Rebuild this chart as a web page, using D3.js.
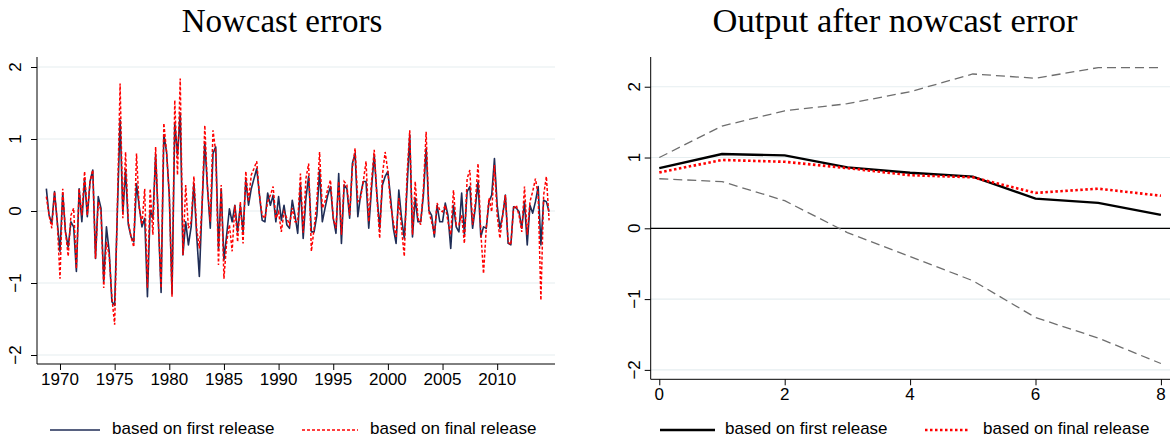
<!DOCTYPE html>
<html>
<head>
<meta charset="utf-8">
<script src="https://cdn.jsdelivr.net/npm/d3@7"></script>
<style>
  body { margin: 0; background: #fff; }
  text { font-family: "Liberation Sans", Arial, sans-serif; }
  .title { font-family: "Liberation Serif", "DejaVu Serif", serif; }
</style>
</head>
<body>
<script>
// quarterly nowcast errors, starting 1968Q4
const startYear = 1968.75;
const firstRelease = [
  0.31, -0.06, -0.17, 0.27, -0.15, -0.56, 0.25, -0.29, -0.5, -0.15,
  -0.22, -0.84, 0.31, -0.15, 0.45, -0.08, 0.41, 0.57, -0.66, 0.2,
  0.04, -0.98, -0.22, -0.56, -1.26, -1.31, 0.0, 1.26, -0.03, 0.57,
  -0.19, -0.36, -0.43, 0.38, 0.06, -0.22, -0.1, -1.19, 0.01, -0.1,
  0.78, -0.15, -1.13, 1.06, 0.82, 0.22, -1.15, 1.22, 0.78, 1.36,
  -0.61, -0.15, -0.47, -0.22, 0.38, -0.33, -0.91, 0.08, 0.96, 0.31,
  -0.24, 0.8, 0.89, -0.52, 0.31, -0.68, -0.33, 0.03, -0.15, 0.08,
  -0.29, 0.08, -0.29, 0.43, 0.08, 0.31, 0.45, 0.59, 0.22, -0.13,
  -0.15, 0.25, 0.08, 0.22, -0.15, 0.2, -0.13, 0.08, -0.19, -0.24,
  0.15, -0.06, -0.31, 0.36, -0.38, 0.18, 0.48, -0.29, -0.29, -0.06,
  0.57, -0.15, 0.04, 0.22, 0.34, -0.1, -0.31, 0.52, -0.45, 0.36,
  0.31, -0.1, 0.66, 0.8, -0.08, 0.22, 0.41, 0.41, -0.24, 0.31,
  0.78, 0.22, -0.24, 0.36, 0.48, 0.55, 0.18, -0.24, -0.45, 0.29,
  -0.1, -0.38, 0.31, 1.06, -0.36, 0.18, -0.15, -0.15, 0.22, 0.87,
  0.01, -0.06, -0.36, 0.08, -0.15, -0.15, 0.11, -0.06, -0.52, 0.08,
  -0.22, -0.29, 0.25, -0.33, 0.27, 0.34, -0.24, 0.05, 0.41, -0.36,
  -0.22, -0.24, 0.13, 0.22, 0.73, 0.08, -0.24, -0.06, 0.22, -0.45,
  -0.47, 0.06, 0.04, -0.01, -0.24, 0.13, -0.47, 0.08, -0.03, 0.13,
  0.34, -0.47, 0.15, 0.13, -0.01
];
const finalRelease = [
  0.2, -0.06, -0.24, 0.27, -0.15, -0.94, 0.31, -0.29, -0.63, -0.06,
  0.04, -0.8, 0.31, -0.06, 0.55, -0.06, 0.41, 0.57, -0.66, 0.13,
  0.0, -1.07, -0.43, -0.61, -1.2, -1.58, 0.08, 1.77, -0.1, 0.82,
  -0.15, -0.36, -0.5, 0.8, 0.04, -0.19, 0.31, -1.07, 0.31, -0.33,
  0.89, -0.15, -1.07, 1.22, 0.82, 0.22, -1.19, 1.54, 0.5, 1.84,
  -0.61, 0.36, -0.24, -0.15, 0.48, -0.24, -0.52, 0.08, 1.19, 0.31,
  -0.15, 1.12, 0.82, -0.75, 0.36, -0.94, -0.43, -0.19, -0.56, 0.08,
  -0.43, 0.13, -0.45, 0.55, 0.13, 0.5, 0.59, 0.69, 0.22, -0.06,
  -0.1, 0.13, 0.22, 0.34, -0.1, -0.01, -0.29, -0.01, -0.1, -0.19,
  0.04, -0.15, -0.15, 0.52, -0.3, 0.45, 0.66, -0.56, -0.24, 0.13,
  0.82, 0.04, 0.13, 0.31, 0.43, -0.1, -0.24, 0.41, -0.33, 0.41,
  0.36, -0.06, 0.59, 0.87, 0.13, 0.18, 0.41, 0.69, -0.15, 0.41,
  0.85, 0.18, -0.38, 0.5, 0.82, 0.55, 0.08, -0.15, -0.36, 0.18,
  -0.24, -0.63, 0.5, 1.12, -0.33, 0.41, -0.1, -0.19, 0.31, 1.1,
  -0.01, -0.15, -0.33, 0.11, 0.01, -0.01, 0.08, -0.15, -0.33, 0.29,
  -0.19, -0.19, -0.06, -0.45, 0.45, 0.57, -0.19, 0.11, 0.66, -0.29,
  -0.87, -0.24, 0.18, -0.01, 0.64, -0.06, -0.38, -0.06, 0.22, -0.43,
  -0.47, 0.04, 0.08, -0.06, -0.29, 0.34, -0.33, 0.13, 0.27, 0.45,
  0.22, -1.24, 0.22, 0.48, -0.13
];
const yearTicks = [1970, 1975, 1980, 1985, 1990, 1995, 2000, 2005, 2010];
const errTicks = [-2, -1, 0, 1, 2];

// impulse response after a nowcast error, horizons 0..8
const horizons = [0, 1, 2, 3, 4, 5, 6, 7, 8];
const irfFirst = [0.85, 1.05, 1.03, 0.86, 0.785, 0.73, 0.42, 0.36, 0.19];
const irfFinal = [0.79, 0.965, 0.94, 0.85, 0.75, 0.72, 0.5, 0.56, 0.46];
const bandUpper = [1.0, 1.445, 1.66, 1.76, 1.93, 2.18, 2.12, 2.27, 2.27];
const bandLower = [0.7, 0.66, 0.39, -0.06, -0.4, -0.74, -1.26, -1.55, -1.91];
const hTicks = [0, 2, 4, 6, 8];
const irfTicks = [-2, -1, 0, 1, 2];

const W = 1172, H = 439;
const svg = d3.select("body").append("svg")
  .attr("width", W).attr("height", H);

const gridColor = "#e6eef0";
const minus = d => d < 0 ? "\u2212" + Math.abs(d) : d;

function drawPanel(opts) {
  const { x, y, xTicks, yTicks, xLabelY, yLabelX, title, titleX, titleSize } = opts;
  const [x0, x1] = x.range();
  const [y0, y1] = y.range();

  // gridlines
  svg.append("g").selectAll("line")
    .data(yTicks)
    .enter().append("line")
    .attr("x1", x0).attr("x2", x1)
    .attr("y1", d => y(d)).attr("y2", d => y(d))
    .attr("stroke", gridColor).attr("stroke-width", 1.2);

  // axes (labels drawn separately so y ones can be rotated)
  const yAxis = svg.append("g")
    .attr("transform", `translate(${x0},0)`)
    .call(d3.axisLeft(y).tickValues(yTicks).tickSize(6));
  yAxis.select(".domain").attr("d", `M0,${y0}V${y1}`);
  yAxis.selectAll("text").remove();
  svg.append("g").selectAll("text")
    .data(yTicks)
    .enter().append("text")
    .attr("transform", d => `translate(${yLabelX},${y(d)}) rotate(-90)`)
    .attr("text-anchor", "middle")
    .attr("dy", "0.35em")
    .style("font-size", "17px")
    .text(minus);

  const xAxis = svg.append("g")
    .attr("transform", `translate(0,${y0})`)
    .call(d3.axisBottom(x).tickValues(xTicks).tickSize(6));
  xAxis.select(".domain").attr("d", `M${x0},0H${x1}`);
  xAxis.selectAll("text").remove();
  svg.append("g").selectAll("text")
    .data(xTicks)
    .enter().append("text")
    .attr("x", d => x(d)).attr("y", xLabelY)
    .attr("text-anchor", "middle")
    .style("font-size", "17px")
    .text(d => d);

  svg.append("text")
    .attr("class", "title")
    .attr("x", titleX).attr("y", 32)
    .attr("text-anchor", "middle")
    .style("font-size", titleSize + "px")
    .text(title);
}

// ---- left panel
const xL = d3.scaleLinear().domain([1967.896, 2015.29]).range([37, 555]);
const yL = d3.scaleLinear().domain([-2.125, 2.139]).range([364, 57]);
drawPanel({ x: xL, y: yL, xTicks: yearTicks, yTicks: errTicks,
  xLabelY: 385, yLabelX: 15, title: "Nowcast errors", titleX: 282, titleSize: 33 });

const lineL = d3.line()
  .x((d, i) => xL(startYear + i / 4))
  .y(d => yL(d));

svg.append("path").datum(firstRelease)
  .attr("d", lineL).attr("fill", "none")
  .attr("stroke", "#1f2d56").attr("stroke-width", 1.6)
  .attr("stroke-linejoin", "round");
svg.append("path").datum(finalRelease)
  .attr("d", lineL).attr("fill", "none")
  .attr("stroke", "#ff0000").attr("stroke-width", 1.5)
  .attr("stroke-dasharray", "3,2");

// ---- right panel
const xR = d3.scaleLinear().domain([-0.137, 8.145]).range([650.7, 1170]);
const yR = d3.scaleLinear().domain([-2.133, 2.42]).range([379.3, 57]);
drawPanel({ x: xR, y: yR, xTicks: hTicks, yTicks: irfTicks,
  xLabelY: 400, yLabelX: 634, title: "Output after nowcast error", titleX: 895, titleSize: 34.5 });

svg.append("line")
  .attr("x1", xR.range()[0]).attr("x2", xR.range()[1])
  .attr("y1", yR(0)).attr("y2", yR(0))
  .attr("stroke", "#000").attr("stroke-width", 1.2);

const lineR = d3.line().x((d, i) => xR(horizons[i])).y(d => yR(d));

[bandUpper, bandLower].forEach(band => {
  svg.append("path").datum(band)
    .attr("d", lineR).attr("fill", "none")
    .attr("stroke", "#6e6e6e").attr("stroke-width", 1.3)
    .attr("stroke-dasharray", "9,5");
});
svg.append("path").datum(irfFirst)
  .attr("d", lineR).attr("fill", "none")
  .attr("stroke", "#000").attr("stroke-width", 2.4);
svg.append("path").datum(irfFinal)
  .attr("d", lineR).attr("fill", "none")
  .attr("stroke", "#ff0000").attr("stroke-width", 2.6)
  .attr("stroke-dasharray", "2.5,2.5");

// ---- legends
const legY = 429;
const legends = [
  { x1: 50, x2: 100, tx: 112, color: "#1f2d56", width: 1.6, dash: null, label: "based on first release" },
  { x1: 302, x2: 358, tx: 370, color: "#ff0000", width: 1.5, dash: "3,2", label: "based on final release" },
  { x1: 660, x2: 715, tx: 725, color: "#000", width: 2.4, dash: null, label: "based on first release" },
  { x1: 925, x2: 970, tx: 983, color: "#ff0000", width: 2.6, dash: "2.5,2.5", label: "based on final release" }
];
const leg = svg.append("g").selectAll("g").data(legends).enter().append("g");
leg.append("line")
  .attr("x1", d => d.x1).attr("x2", d => d.x2)
  .attr("y1", legY + 1).attr("y2", legY + 1)
  .attr("stroke", d => d.color).attr("stroke-width", d => d.width)
  .attr("stroke-dasharray", d => d.dash);
leg.append("text")
  .attr("x", d => d.tx).attr("y", legY).attr("dy", "0.3em")
  .style("font-size", "17px")
  .text(d => d.label);
</script>
</body>
</html>
